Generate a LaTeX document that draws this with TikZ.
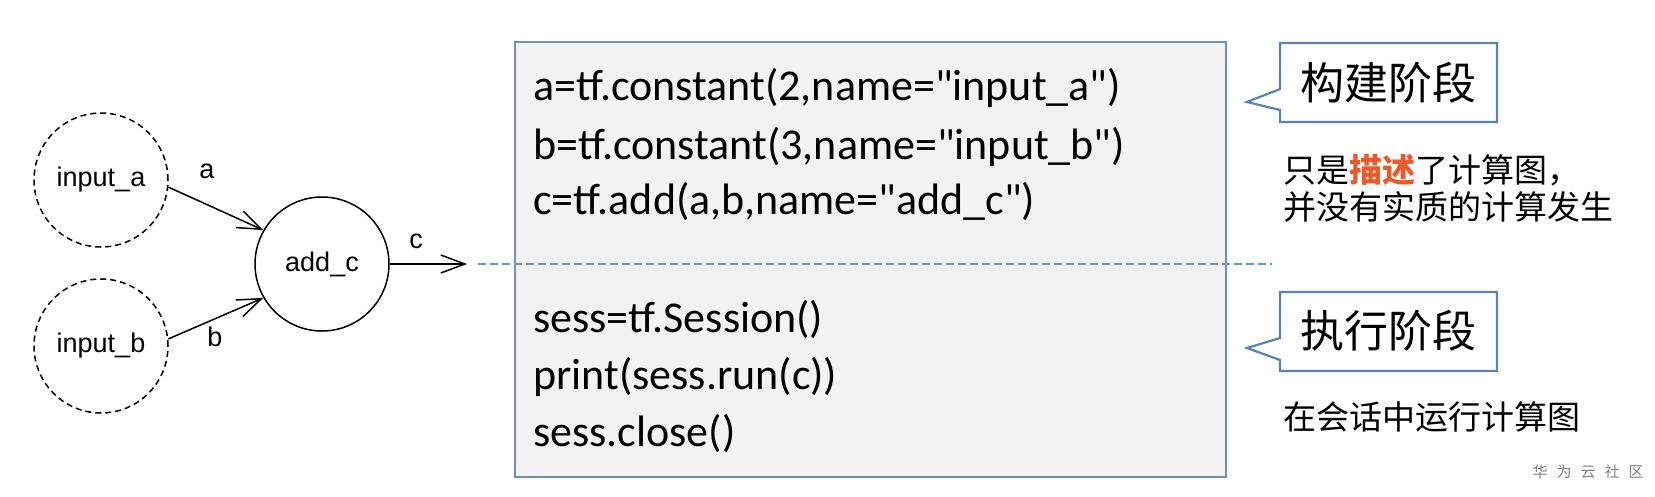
\documentclass[tikz,border=0pt]{standalone}
\usepackage{fontspec}
\setmainfont{Liberation Sans}
\newfontfamily\cjk{Noto Sans CJK SC}
\newfontfamily\code{Carlito}
\usetikzlibrary{arrows.meta}
\definecolor{boxline}{HTML}{7090BA}
\definecolor{boxfill}{HTML}{F2F2F2}
\definecolor{tagline}{HTML}{5A83B4}
\definecolor{splitline}{HTML}{5B9BD5}
\definecolor{hilite}{HTML}{EA5A2A}
\tikzset{>={Straight Barb[length=24pt,width=18pt,line width=1.5pt]},
  op/.style={circle,draw,line width=1.5pt,minimum size=134pt,inner sep=0pt,font=\fontsize{27}{30}\selectfont},
  inop/.style={op,dash pattern=on 6pt off 4pt},
  lbl/.style={inner sep=0pt,font=\fontsize{27}{30}\selectfont},
  codeline/.style={anchor=base west,inner sep=0pt,font=\code\fontsize{44}{50}\selectfont},
  tag/.style={draw=tagline,fill=white,line width=2.2pt},
  stage/.style={inner sep=0pt,font=\cjk\fontsize{44}{50}\selectfont},
  note/.style={anchor=west,inner sep=0pt,align=left,font=\cjk\fontsize{33}{37}\selectfont}}

\begin{document}
\begin{tikzpicture}[x=1pt,y=-1pt]
    \useasboundingbox (0,0) rectangle (1655,496);
    \node[inop] (inA) at (101,180) {input\_a};
    \node[inop] (inB) at (101,346) {input\_b};
    \node[op] (add) at (322,264) {add\_c};
    \coordinate (out) at (467,264);
    \draw[->,line width=1.5pt] (inA.-6) -- (add.150);
    \draw[->,line width=1.5pt] (inB.6) -- (add.-150);
    \draw[->,line width=1.5pt] (add) -- (out);
    \node[lbl] (la) at (207,171) {a};
    \node[lbl] (lb) at (215,337) {b};
    \node[lbl] (lc) at (416,241) {c};
    \draw[boxline,fill=boxfill,line width=1.5pt] (515,42) rectangle (1226,477);
    \coordinate (s1) at (478,264);
    \coordinate (s2) at (1272,264);
    \draw[splitline,line width=1.5pt,dash pattern=on 8pt off 4pt] (s1) -- (s2);
    \node[codeline] (ca) at (533,100) {a=tf.constant(2,name="input\_a")};
    \node[codeline] (cb) at (533,159) {b=tf.constant(3,name="input\_b")};
    \node[codeline] (cc) at (533,214) {c=tf.add(a,b,name="add\_c")};
    \node[codeline] (cs) at (533,332) {sess=tf.Session()};
    \node[codeline] (cp) at (533,389) {print(sess.run(c))};
    \node[codeline] (cx) at (533,446) {sess.close()};
    \draw[tag] (1280,43) -- (1497,43) -- (1497,122) -- (1280,122) -- (1280,110) -- (1247,102) -- (1280,89) -- cycle;
    \draw[tag] (1280,292) -- (1497,292) -- (1497,371) -- (1280,371) -- (1280,360) -- (1247,348) -- (1280,338) -- cycle;
    \node[stage] (build) at (1388,83) {构建阶段};
    \node[stage] (run) at (1388,331) {执行阶段};
    \node[note] (buildnote) at (1283,188) {只是{\bfseries\color{hilite}描述}了计算图，\\并没有实质的计算发生};
    \node[note] (runnote) at (1283,417) {在会话中运行计算图};
    \node[inner sep=0pt,text=black!50,font=\cjk\fontsize{15}{18}\selectfont] (wm) at (1588,472) {华\hspace{9pt}为\hspace{9pt}云\hspace{9pt}社\hspace{9pt}区};
\end{tikzpicture}
\end{document}
